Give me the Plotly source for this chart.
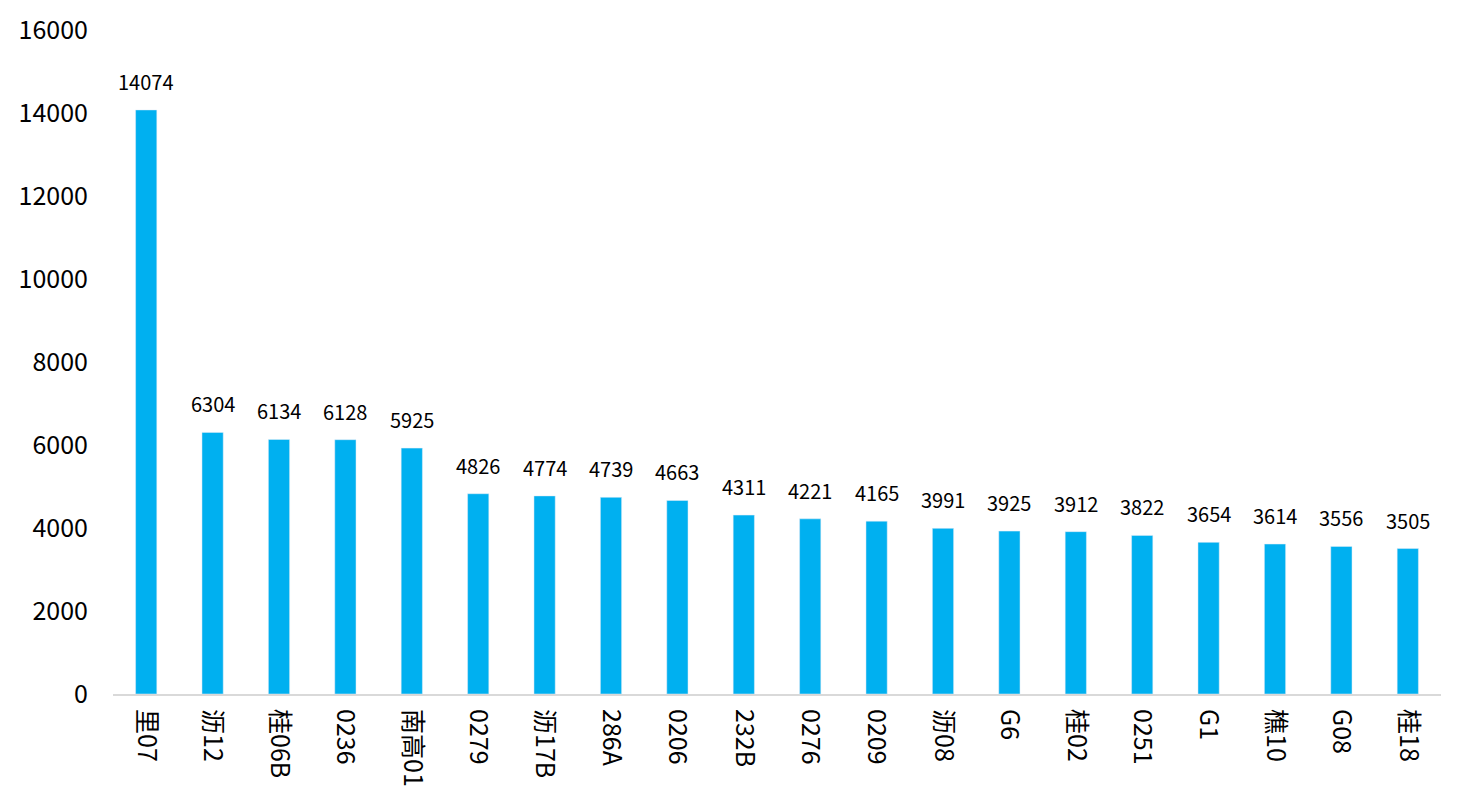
import plotly.graph_objects as go

# 线路名称与数值
categories = ["里07", "沥12", "桂06B", "0236", "南高01", "0279", "沥17B", "286A", "0206", "232B",
              "0276", "0209", "沥08", "G6", "桂02", "0251", "G1", "樵10", "G08", "桂18"]
values = [14074, 6304, 6134, 6128, 5925, 4826, 4774, 4739, 4663, 4311,
          4221, 4165, 3991, 3925, 3912, 3822, 3654, 3614, 3556, 3505]
y_ticks = [0, 2000, 4000, 6000, 8000, 10000, 12000, 14000, 16000]

font_family = "Noto Sans CJK SC, Noto Sans, sans-serif"

fig = go.Figure()
fig.add_trace(go.Bar(x=categories, y=values, marker_color="#00B0F0", hoverinfo="x+y"))

# 柱顶数值标签（类别轴上用序号定位）
for i, v in enumerate(values):
    fig.add_annotation(x=i, y=v, text=str(v), showarrow=False, yanchor="bottom",
                       yshift=12, font=dict(size=20, color="#000000", family=font_family))

fig.update_layout(
    width=1480, height=790,
    margin=dict(l=105, r=47, t=22, b=104),
    paper_bgcolor="white", plot_bgcolor="white",
    bargap=0.68,
    showlegend=False,
    font=dict(family=font_family, color="#000000"),
)
fig.update_xaxes(type="category", categoryorder="array", categoryarray=categories,
                 range=[-0.5, len(categories) - 0.5], tickangle=90, tickfont=dict(size=25),
                 showline=True, linecolor="#D9D9D9", linewidth=2, ticks="", showgrid=False,
                 automargin=False, ticklabelstandoff=8)
fig.update_yaxes(range=[0, 16000], tickvals=y_ticks, ticktext=[str(t) for t in y_ticks],
                 tickfont=dict(size=25), showgrid=False, automargin=False,
                 zeroline=False, showline=False, ticks="", ticklabelstandoff=24)

fig.write_html("out.html")
